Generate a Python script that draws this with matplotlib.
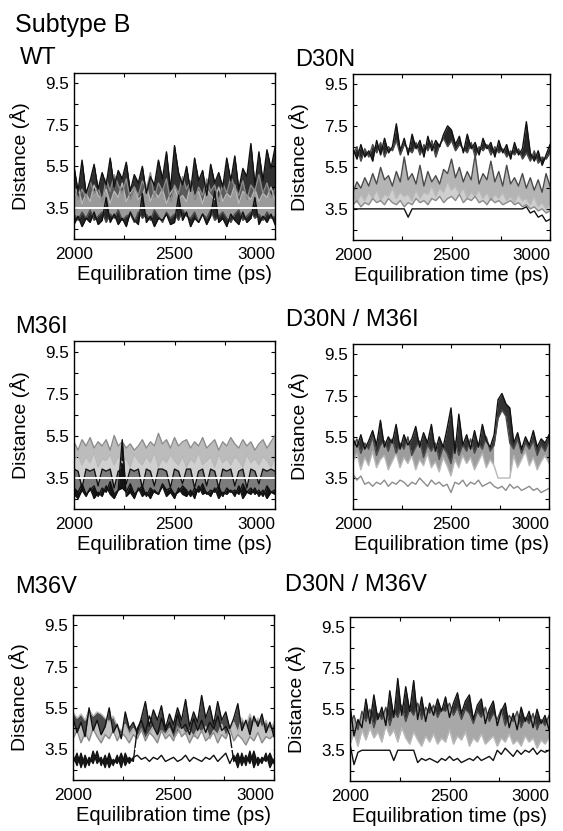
import numpy as np
import matplotlib
matplotlib.use("Agg")
import matplotlib.pyplot as plt

plt.rcParams['font.family'] = ['Liberation Sans', 'DejaVu Sans']

# time axis (ps), one sample every 20 ps
T_START, T_END = 2000, 3000
CUTOFF = 3.5

# ---- WT -------------------------------------------------------------
wt_a = [5.5, 4.3, 5.8, 4.2, 4.8, 5.6, 4.4, 5.2, 4.6, 5.9, 4.5, 5.3, 4.9, 5.7, 4.3, 5.1,
        4.7, 5.5, 4.2, 5.0, 4.6, 5.8, 4.9, 6.2, 4.4, 6.5, 5.2, 4.6, 5.5, 4.3, 5.9, 4.8,
        5.3, 4.1, 5.6, 4.7, 5.2, 4.5, 5.9, 4.8, 6.0, 4.4, 5.4, 5.0, 6.6, 4.6, 6.2, 4.8,
        6.3, 5.4, 6.4]
wt_b = [4.6, 3.9, 4.4, 4.0, 4.8, 4.2, 4.5, 3.8, 4.9, 4.3, 5.1, 4.6, 4.2, 4.9, 3.9, 4.5,
        4.1, 4.8, 4.4, 5.2, 4.0, 4.7, 4.3, 4.9, 3.8, 4.6, 4.2, 5.0, 4.4, 4.8, 3.9, 4.5,
        4.1, 4.9, 4.3, 4.6, 3.8, 4.7, 4.2, 5.0, 4.5, 4.1, 4.8, 3.9, 4.6, 4.3, 5.1, 4.2,
        4.7, 4.0, 4.4]
wt_c = [4.0, 4.5, 3.7, 4.2, 3.8, 4.6, 4.1, 3.9, 4.4, 3.7, 4.3, 4.0, 4.7, 3.8, 4.2, 4.5,
        3.9, 4.1, 4.6, 3.8, 4.3, 4.0, 4.4, 3.7, 4.2, 4.5, 3.9, 4.1, 3.8, 4.6, 4.0, 4.3,
        3.7, 4.4, 4.1, 3.9, 4.5, 3.8, 4.2, 4.0, 4.6, 3.7, 4.3, 4.1, 3.9, 4.4, 3.8, 4.2,
        4.0, 4.5, 3.9]
wt_d = [2.7, 3.1, 2.6, 3.0, 2.8, 3.3, 2.7, 2.9, 4.0, 2.8, 3.2, 2.7, 3.0, 2.6, 3.3, 2.9,
        2.7, 4.2, 2.8, 3.1, 2.6, 3.0, 2.9, 3.2, 2.7, 2.8, 4.1, 2.9, 3.3, 2.6, 3.0, 2.8,
        3.2, 2.7, 3.1, 4.3, 2.8, 3.0, 2.6, 3.2, 2.9, 2.7, 3.3, 2.8, 3.0, 4.0, 2.7, 3.1,
        2.8, 3.2, 2.7]
wt_e = [3.2, 2.9, 3.3, 3.0, 3.4, 2.9, 3.1, 3.3, 2.8, 3.2, 3.0, 3.4, 2.9, 3.1, 3.2, 2.8,
        3.3, 3.0, 3.2, 2.9, 3.4, 3.1, 2.8, 3.3, 3.0, 3.2, 2.9, 3.4, 3.1, 3.0, 3.3, 2.8,
        3.2, 3.0, 3.4, 2.9, 3.1, 3.3, 3.0, 2.8, 3.2, 3.4, 2.9, 3.1, 3.3, 3.0, 3.2, 2.9,
        3.3, 3.0, 3.1]

# ---- D30N -----------------------------------------------------------
d30n_a = [6.4, 5.9, 6.6, 6.0, 6.3, 5.8, 6.8, 6.1, 6.9, 6.2, 6.5, 7.6, 6.3, 6.9, 6.1, 7.1,
          6.4, 6.8, 6.0, 7.0, 6.3, 6.8, 6.5, 7.1, 7.5, 7.3, 6.6, 7.0, 6.2, 7.1, 6.4, 6.7,
          6.1, 6.9, 6.4, 6.7, 6.0, 6.8, 6.2, 6.6, 5.9, 6.7, 6.1, 6.4, 7.7, 6.2, 5.8, 6.3,
          5.6, 6.1, 6.6]
d30n_b = [6.1, 6.5, 5.8, 6.4, 6.0, 6.6, 6.2, 6.7, 6.0, 6.5, 6.3, 6.8, 6.1, 6.6, 6.4, 6.2,
          6.7, 6.1, 6.6, 6.3, 6.8, 6.0, 6.6, 6.9, 6.5, 6.8, 6.3, 6.6, 6.4, 6.2, 6.7, 6.0,
          6.5, 6.3, 6.6, 6.1, 6.5, 6.2, 6.4, 6.0, 6.3, 6.1, 6.4, 5.9, 6.2, 5.8, 6.3, 5.7,
          6.0, 5.9, 6.2]
d30n_c = [4.3, 4.8, 4.5, 5.0, 4.6, 5.2, 4.7, 5.5, 4.9, 5.1, 4.6, 5.3, 4.8, 6.0, 4.9, 5.2,
          4.7, 5.6, 4.6, 5.3, 4.8, 5.1, 4.7, 5.4, 5.2, 5.9, 5.0, 5.5, 4.8, 5.3, 4.9, 6.1,
          4.7, 5.2, 4.9, 5.8, 4.8, 5.3, 4.6, 5.6, 4.7, 5.0, 4.6, 5.2, 4.5, 5.0, 4.4, 4.9,
          4.3, 5.2, 4.6]
d30n_d = [4.0, 3.8, 4.2, 3.9, 4.3, 4.0, 4.4, 3.9, 4.2, 4.1, 4.5, 4.0, 4.3, 4.1, 4.2, 3.9,
          4.4, 4.0, 4.3, 4.2, 4.6, 4.1, 4.5, 4.3, 4.8, 4.4, 4.6, 4.2, 4.5, 4.0, 4.3, 4.1,
          4.4, 4.0, 4.3, 3.9, 4.2, 4.0, 4.3, 3.9, 4.1, 3.8, 4.2, 3.9, 4.0, 3.7, 4.1, 3.6,
          3.8, 3.5, 3.7]
d30n_e = [3.7, 3.9, 3.6, 3.8, 3.7, 4.0, 3.8, 3.9, 3.7, 4.0, 3.8, 3.7, 3.9, 3.6, 3.8, 3.7,
          4.0, 3.8, 3.9, 3.7, 4.0, 3.9, 4.1, 3.8, 4.0, 4.1, 3.9, 4.2, 3.8, 4.0, 3.9, 4.1,
          3.8, 3.9, 3.7, 4.0, 3.8, 3.9, 3.7, 3.8, 3.9, 3.7, 3.8, 3.6, 3.7, 3.5, 3.6, 3.4,
          3.5, 3.3, 3.4]
d30n_f = [3.5, 3.5, 3.5, 3.5, 3.5, 3.5, 3.5, 3.5, 3.5, 3.5, 3.5, 3.5, 3.5, 3.5, 3.1, 3.5,
          3.5, 3.5, 3.5, 3.5, 3.5, 3.5, 3.5, 3.5, 3.5, 3.5, 3.5, 3.5, 3.5, 3.5, 3.5, 3.5,
          3.5, 3.5, 3.5, 3.5, 3.5, 3.5, 3.5, 3.5, 3.5, 3.5, 3.5, 3.5, 3.6, 3.3, 3.4, 3.1,
          3.2, 2.9, 3.0]

# ---- M36I -----------------------------------------------------------
m36i_a = [5.2, 4.8, 5.3, 5.0, 5.4, 4.9, 5.2, 5.0, 5.3, 4.8, 5.5, 5.0, 5.2, 4.9, 5.1, 4.8,
          5.0, 5.3, 4.9, 5.2, 5.0, 5.6, 5.1, 5.3, 4.9, 5.4, 5.0, 5.2, 5.3, 4.9, 5.2, 5.0,
          5.4, 4.9, 5.1, 5.3, 4.8, 5.2, 5.0, 5.4, 5.1, 4.9, 5.3, 5.0, 5.2, 4.8, 5.1, 5.3,
          4.9, 5.2, 5.5]
m36i_b = [4.3, 4.6, 4.1, 4.5, 4.2, 4.7, 4.0, 4.4, 4.3, 4.6, 4.1, 4.5, 4.2, 4.4, 4.0, 4.6,
          4.3, 4.1, 4.5, 4.2, 4.7, 4.0, 4.4, 4.2, 4.6, 4.3, 4.1, 4.5, 4.0, 4.4, 4.2, 4.7,
          4.1, 4.3, 4.5, 4.0, 4.6, 4.2, 4.4, 4.1, 4.5, 4.3, 4.0, 4.6, 4.2, 4.4, 4.1, 4.5,
          4.3, 4.0, 4.4]
m36i_c = [3.9, 3.8, 3.0, 3.9, 3.8, 3.9, 3.1, 3.9, 3.8, 3.9, 3.0, 3.8, 3.9, 3.2, 3.9, 3.8,
          3.9, 3.0, 3.9, 3.8, 3.1, 3.9, 3.9, 3.8, 3.0, 3.9, 3.8, 3.2, 3.9, 3.9, 3.0, 3.8,
          3.9, 3.1, 3.9, 3.8, 3.0, 3.9, 3.8, 3.9, 3.1, 3.8, 3.9, 3.0, 3.9, 3.8, 3.2, 3.9,
          3.8, 3.9, 3.8]
m36i_d = [2.7, 2.5, 2.9, 2.6, 3.0, 2.5, 2.8, 2.6, 3.1, 2.7, 2.5, 2.9, 5.3, 2.6, 2.8, 2.5,
          3.0, 2.6, 2.8, 2.5, 2.9, 2.7, 3.1, 2.6, 2.8, 2.5, 3.0, 2.7, 2.6, 2.9, 2.5, 3.1,
          2.7, 2.8, 2.6, 3.0, 2.5, 2.8, 2.7, 2.9, 2.6, 3.1, 2.5, 2.8, 2.7, 3.0, 2.6, 2.9,
          2.5, 2.8, 2.7]
m36i_e = [3.0, 2.8, 3.2, 2.7, 2.9, 3.1, 2.6, 3.0, 2.8, 3.3, 2.7, 2.9, 3.0, 2.8, 3.2, 2.7,
          2.9, 3.1, 2.6, 3.0, 2.8, 2.7, 3.2, 2.9, 3.0, 2.7, 2.8, 3.1, 2.9, 2.6, 3.0, 2.8,
          3.2, 2.7, 2.9, 2.8, 3.1, 2.6, 3.0, 2.8, 2.9, 2.7, 3.2, 2.8, 3.0, 2.7, 2.9, 2.6,
          3.1, 2.8, 2.9]

# ---- D30N / M36I ----------------------------------------------------
dm36i_a = [5.4, 5.0, 5.6, 4.9, 5.3, 5.8, 5.1, 6.3, 5.0, 5.5, 5.2, 6.1, 4.9, 5.6, 5.1, 5.4,
           6.0, 5.0, 5.7, 5.2, 6.1, 4.8, 5.5, 5.0, 5.9, 6.9, 4.7, 6.6, 5.1, 5.6, 4.9, 5.8,
           5.0, 6.1, 5.3, 5.0, 5.6, 7.3, 7.6, 7.1, 6.9, 5.2, 5.7, 4.9, 5.5, 5.1, 5.8, 5.0,
           5.4, 5.2, 5.6]
dm36i_b = [5.0, 5.4, 4.7, 5.2, 4.9, 5.5, 4.6, 5.1, 5.3, 4.8, 5.4, 4.7, 5.2, 4.9, 5.5, 4.6,
           5.0, 5.3, 4.5, 5.1, 4.8, 5.2, 4.4, 5.0, 4.7, 4.2, 5.3, 4.6, 5.1, 4.8, 5.4, 4.7,
           5.2, 4.9, 5.5, 4.8, 5.1, 6.4, 6.8, 6.5, 5.2, 4.9, 5.4, 4.7, 5.2, 4.9, 5.3, 4.6,
           5.1, 4.8, 5.3]
dm36i_c = [4.3, 4.7, 3.9, 4.5, 4.1, 4.8, 4.0, 4.4, 4.6, 3.9, 4.3, 4.7, 4.0, 4.5, 4.2, 4.6,
           3.9, 4.4, 4.1, 4.7, 4.0, 4.3, 3.8, 4.5, 4.1, 3.6, 4.4, 4.0, 4.6, 4.2, 4.5, 3.9,
           4.3, 4.7, 4.0, 4.4, 4.1, 3.5, 3.5, 3.5, 3.5, 4.6, 4.0, 4.4, 4.8, 4.1, 4.5, 3.9,
           4.3, 4.6, 4.2]
dm36i_d = [3.7, 3.4, 3.6, 3.2, 3.3, 3.1, 3.3, 3.2, 3.4, 3.1, 3.3, 3.2, 3.4, 3.3, 3.1, 3.3,
           3.2, 3.5, 3.3, 3.1, 3.4, 3.2, 3.3, 3.1, 3.2, 2.8, 3.3, 3.2, 3.4, 3.1, 3.3, 3.2,
           3.4, 3.1, 3.2, 3.3, 3.1, 3.0, 3.1, 2.9, 3.2, 3.0, 3.1, 2.9, 3.0, 3.1, 2.9, 3.0,
           2.8, 2.9, 3.0]

# ---- M36V -----------------------------------------------------------
m36v_a = [5.0, 4.3, 4.8, 4.1, 5.5, 4.4, 4.9, 4.2, 4.6, 5.5, 4.3, 4.7, 4.0, 5.3, 4.5, 4.8,
          4.3, 5.0, 5.8, 4.6, 5.4, 4.9, 5.6, 4.5, 5.2, 4.7, 5.5, 4.9, 5.9, 4.6, 5.3, 4.8,
          6.1, 5.0, 5.6, 4.7, 5.8, 4.9, 5.3, 4.5, 5.0, 5.7, 4.4, 4.9, 4.2, 5.1, 4.6, 5.2,
          4.3, 4.8, 4.1]
m36v_b = [5.3, 5.0, 5.2, 4.9, 5.4, 5.1, 5.3, 5.2, 5.0, 4.8, 5.1, 4.6, 4.4, 4.7, 4.2, 4.5,
          4.1, 4.4, 4.0, 4.3, 4.6, 4.1, 4.4, 4.2, 4.5, 4.0, 4.3, 4.6, 4.2, 4.4, 4.1, 4.5,
          4.3, 4.6, 4.0, 4.4, 4.2, 4.7, 4.1, 4.5, 4.8, 4.3, 5.0, 4.6, 5.2, 4.7, 5.0, 4.5,
          4.9, 4.4, 4.8]
m36v_c = [4.0, 4.4, 3.8, 4.3, 3.9, 4.5, 4.1, 3.8, 4.2, 4.0, 4.4, 3.9, 4.3, 4.1, 3.8, 4.2,
          4.0, 4.5, 3.9, 4.3, 4.1, 3.8, 4.4, 4.0, 4.2, 3.9, 4.6, 4.1, 4.3, 3.8, 4.2, 4.0,
          4.4, 3.9, 4.1, 4.3, 3.8, 4.2, 4.0, 4.5, 3.9, 4.2, 4.0, 3.7, 4.1, 3.9, 4.3, 3.8,
          4.1, 4.0, 4.2]
m36v_d = [2.8, 3.3, 2.6, 3.2, 2.7, 3.4, 2.8, 3.1, 2.6, 3.3, 2.7, 3.2, 2.6, 3.3, 2.8, 3.1,
          3.2, 3.0, 3.1, 2.9, 3.1, 3.0, 3.2, 2.9, 3.0, 3.1, 2.9, 3.0, 3.2, 2.9, 3.1, 3.0,
          2.9, 3.1, 3.0, 3.2, 2.9, 3.1, 3.3, 2.8, 3.2, 2.6, 3.3, 2.7, 3.4, 2.6, 3.1, 2.8,
          3.3, 2.6, 3.0]
m36v_e = [3.2, 2.7, 3.3, 2.6, 3.1, 2.8, 3.4, 2.7, 3.2, 2.6, 3.0, 2.8, 3.3, 2.7, 3.1, 2.9,
          4.5, 4.9, 4.3, 5.1, 4.6, 4.2, 5.0, 4.4, 4.8, 4.3, 5.2, 4.5, 4.7, 4.2, 5.0, 4.4,
          4.9, 4.3, 4.8, 4.5, 5.1, 4.4, 4.6, 4.2, 2.9, 3.3, 2.7, 3.2, 2.8, 3.4, 2.7, 3.1,
          2.9, 3.3, 2.8]

# ---- D30N / M36V ----------------------------------------------------
dm36v_a = [5.7, 4.2, 5.0, 4.6, 6.0, 4.8, 6.2, 5.0, 5.6, 4.7, 6.4, 5.1, 7.0, 5.2, 6.6, 5.4,
           6.9, 5.0, 6.1, 4.9, 5.8, 5.2, 6.0, 5.4, 6.1, 5.1, 5.8, 6.3, 5.3, 5.9, 6.2, 5.0,
           5.7, 6.0, 4.8, 5.5, 5.9, 4.7, 5.4, 5.8, 4.6, 5.3, 4.5, 5.6, 4.9, 5.4, 4.6, 5.5,
           4.8, 5.2, 4.5]
dm36v_b = [4.8, 5.2, 4.5, 5.4, 4.9, 5.5, 4.6, 5.3, 5.0, 5.6, 4.7, 5.4, 5.1, 5.7, 4.9, 5.5,
           5.2, 5.8, 5.0, 5.6, 5.3, 5.7, 5.1, 5.5, 5.4, 5.8, 5.2, 5.6, 5.0, 5.5, 5.3, 4.8,
           5.4, 5.1, 5.6, 4.9, 5.3, 5.0, 5.5, 4.7, 5.2, 4.9, 5.4, 4.6, 5.1, 4.8, 5.3, 4.5,
           5.0, 4.7, 5.2]
dm36v_c = [3.8, 4.3, 3.7, 4.5, 4.0, 4.6, 4.1, 4.4, 3.9, 4.7, 4.2, 4.5, 3.9, 4.6, 4.1, 3.8,
           4.4, 4.0, 3.7, 4.2, 3.9, 4.3, 3.8, 4.1, 3.9, 4.5, 3.8, 4.2, 4.0, 4.4, 3.7, 4.1,
           3.9, 4.3, 3.8, 4.0, 4.2, 3.7, 4.1, 3.9, 4.3, 3.8, 4.0, 3.7, 4.2, 3.9, 4.1, 3.6,
           4.0, 3.8, 4.1]
dm36v_d = [3.8, 2.8, 3.4, 3.5, 3.5, 3.5, 3.5, 3.5, 3.5, 3.5, 3.5, 3.0, 3.5, 3.5, 3.5, 3.5,
           3.5, 2.9, 3.1, 3.0, 3.1, 3.0, 2.9, 3.1, 3.0, 3.2, 3.0, 3.1, 2.9, 3.0, 3.1, 3.0,
           3.2, 3.0, 3.1, 3.2, 3.0, 3.5, 3.3, 3.6, 3.4, 3.2, 3.5, 3.3, 3.5, 3.4, 3.6, 3.3,
           3.5, 3.4, 3.5]

BLACK, DARK, MID, LIGHT = '#111111', '#4a4a4a', '#8c8c8c', '#b8b8b8'


def px_rect(left, top, right, bottom, w=563, h=831):
    return [left / w, 1 - bottom / h, (right - left) / w, (bottom - top) / h]


def main():
    fig = plt.figure(figsize=(5.63, 8.31), dpi=100)

    # title, axes box (px: left, top, right, bottom), title pos,
    # shaded bands (lo, hi, colour, only-where-hi-below), traces, cutoff style
    panels = [
        ("WT", (74, 73, 275, 239), (20, 58),
         [(wt_d, wt_a, '#9a9a9a', None), (wt_c, wt_a, '#5a5a5a', None),
          (wt_b, wt_a, '#303030', None), (wt_d, wt_e, '#262626', None)],
         [(wt_c, LIGHT), (wt_b, MID), (wt_e, DARK), (wt_a, BLACK), (wt_d, BLACK)], '-'),
        ("D30N", (353, 74, 550, 240), (295, 60),
         [(d30n_b, d30n_a, '#262626', None), (d30n_d, d30n_c, '#b4b4b4', None),
          (d30n_e, d30n_d, '#cfcfcf', None)],
         [(d30n_d, LIGHT), (d30n_e, MID), (d30n_c, DARK), (d30n_b, DARK), (d30n_a, BLACK),
          (d30n_f, BLACK)], None),
        ("M36I", (74, 341, 275, 509), (15, 327),
         [(m36i_b, m36i_a, '#bcbcbc', None), (m36i_c, m36i_b, '#d0d0d0', None),
          (m36i_e, m36i_c, '#7c7c7c', None), (m36i_d, m36i_e, '#141414', None)],
         [(m36i_a, MID), (m36i_b, LIGHT), (m36i_e, BLACK), (m36i_c, BLACK), (m36i_d, BLACK)], '-'),
        ("D30N / M36I", (353, 344, 549, 509), (286, 320),
         [(dm36i_b, dm36i_a, '#333333', None), (dm36i_c, dm36i_b, '#9c9c9c', 6.0)],
         [(dm36i_c, LIGHT), (dm36i_d, MID), (dm36i_b, DARK), (dm36i_a, BLACK)], None),
        ("M36V", (73, 615, 274, 780), (15, 587),
         [(m36v_c, m36v_b, '#c2c2c2', None), (m36v_b, m36v_a, '#4a4a4a', None),
          (m36v_d, m36v_e, '#1a1a1a', 3.6)],
         [(m36v_b, LIGHT), (m36v_c, MID), (m36v_e, BLACK), (m36v_a, BLACK), (m36v_d, BLACK)], '--'),
        ("D30N / M36V", (350, 617, 549, 781), (285, 585),
         [(dm36v_b, dm36v_a, '#2e2e2e', None), (dm36v_c, dm36v_b, '#a8a8a8', None)],
         [(dm36v_c, LIGHT), (dm36v_b, DARK), (dm36v_a, BLACK), (dm36v_d, BLACK)], None),
    ]

    fig.text(15 / 563, 1 - 25 / 831, "Subtype B", fontsize=18, va='center', ha='left')

    for title, box, tpos, bands, traces, cut in panels:
        ax = fig.add_axes(px_rect(*box))
        # shaded regions where traces overlap densely ---------------
        for lo, hi, col, cap in bands:
            t = np.linspace(T_START, T_END, len(lo))
            mask = None if cap is None else np.array(hi) < cap
            ax.fill_between(t, lo, hi, where=mask, color=col, lw=0, interpolate=True)
        # individual traces -----------------------------------------
        for vals, col in traces:
            t = np.linspace(T_START, T_END, len(vals))
            ax.plot(t, vals, color=col, lw=1.0)
        if cut is not None:
            ax.axhline(CUTOFF, color='white', lw=1.4, ls=cut, zorder=5)
        ax.set_xlim(T_START, T_END)
        ax.set_ylim(2, 10)
        ax.set_xticks([2000, 2500, 3000])
        ax.set_xticks([2250, 2750], minor=True)
        ax.set_yticks([3.5, 5.5, 7.5, 9.5])
        ax.set_yticks([2.5, 4.5, 6.5, 8.5], minor=True)
        ax.tick_params(which='both', direction='in', top=True, right=True,
                       labelsize=12.3, length=3, width=0.8)
        ax.tick_params(axis='x', pad=6)
        for lbl in ax.get_xticklabels()[-1:]:
            lbl.set_ha('right')
        ax.set_xlabel("Equilibration time (ps)", fontsize=14.5, labelpad=2)
        ax.set_ylabel("Distance (Å)", fontsize=14)
        ax.yaxis.set_label_coords(-44 / (box[2] - box[0]), 0.5)
        for s in ax.spines.values():
            s.set_linewidth(1.0)
            s.set_zorder(6)
        fig.text(tpos[0] / 563, 1 - tpos[1] / 831, title, fontsize=17,
                 va='center', ha='left')

    fig.savefig("out.png", dpi=100)


if __name__ == "__main__":
    main()
